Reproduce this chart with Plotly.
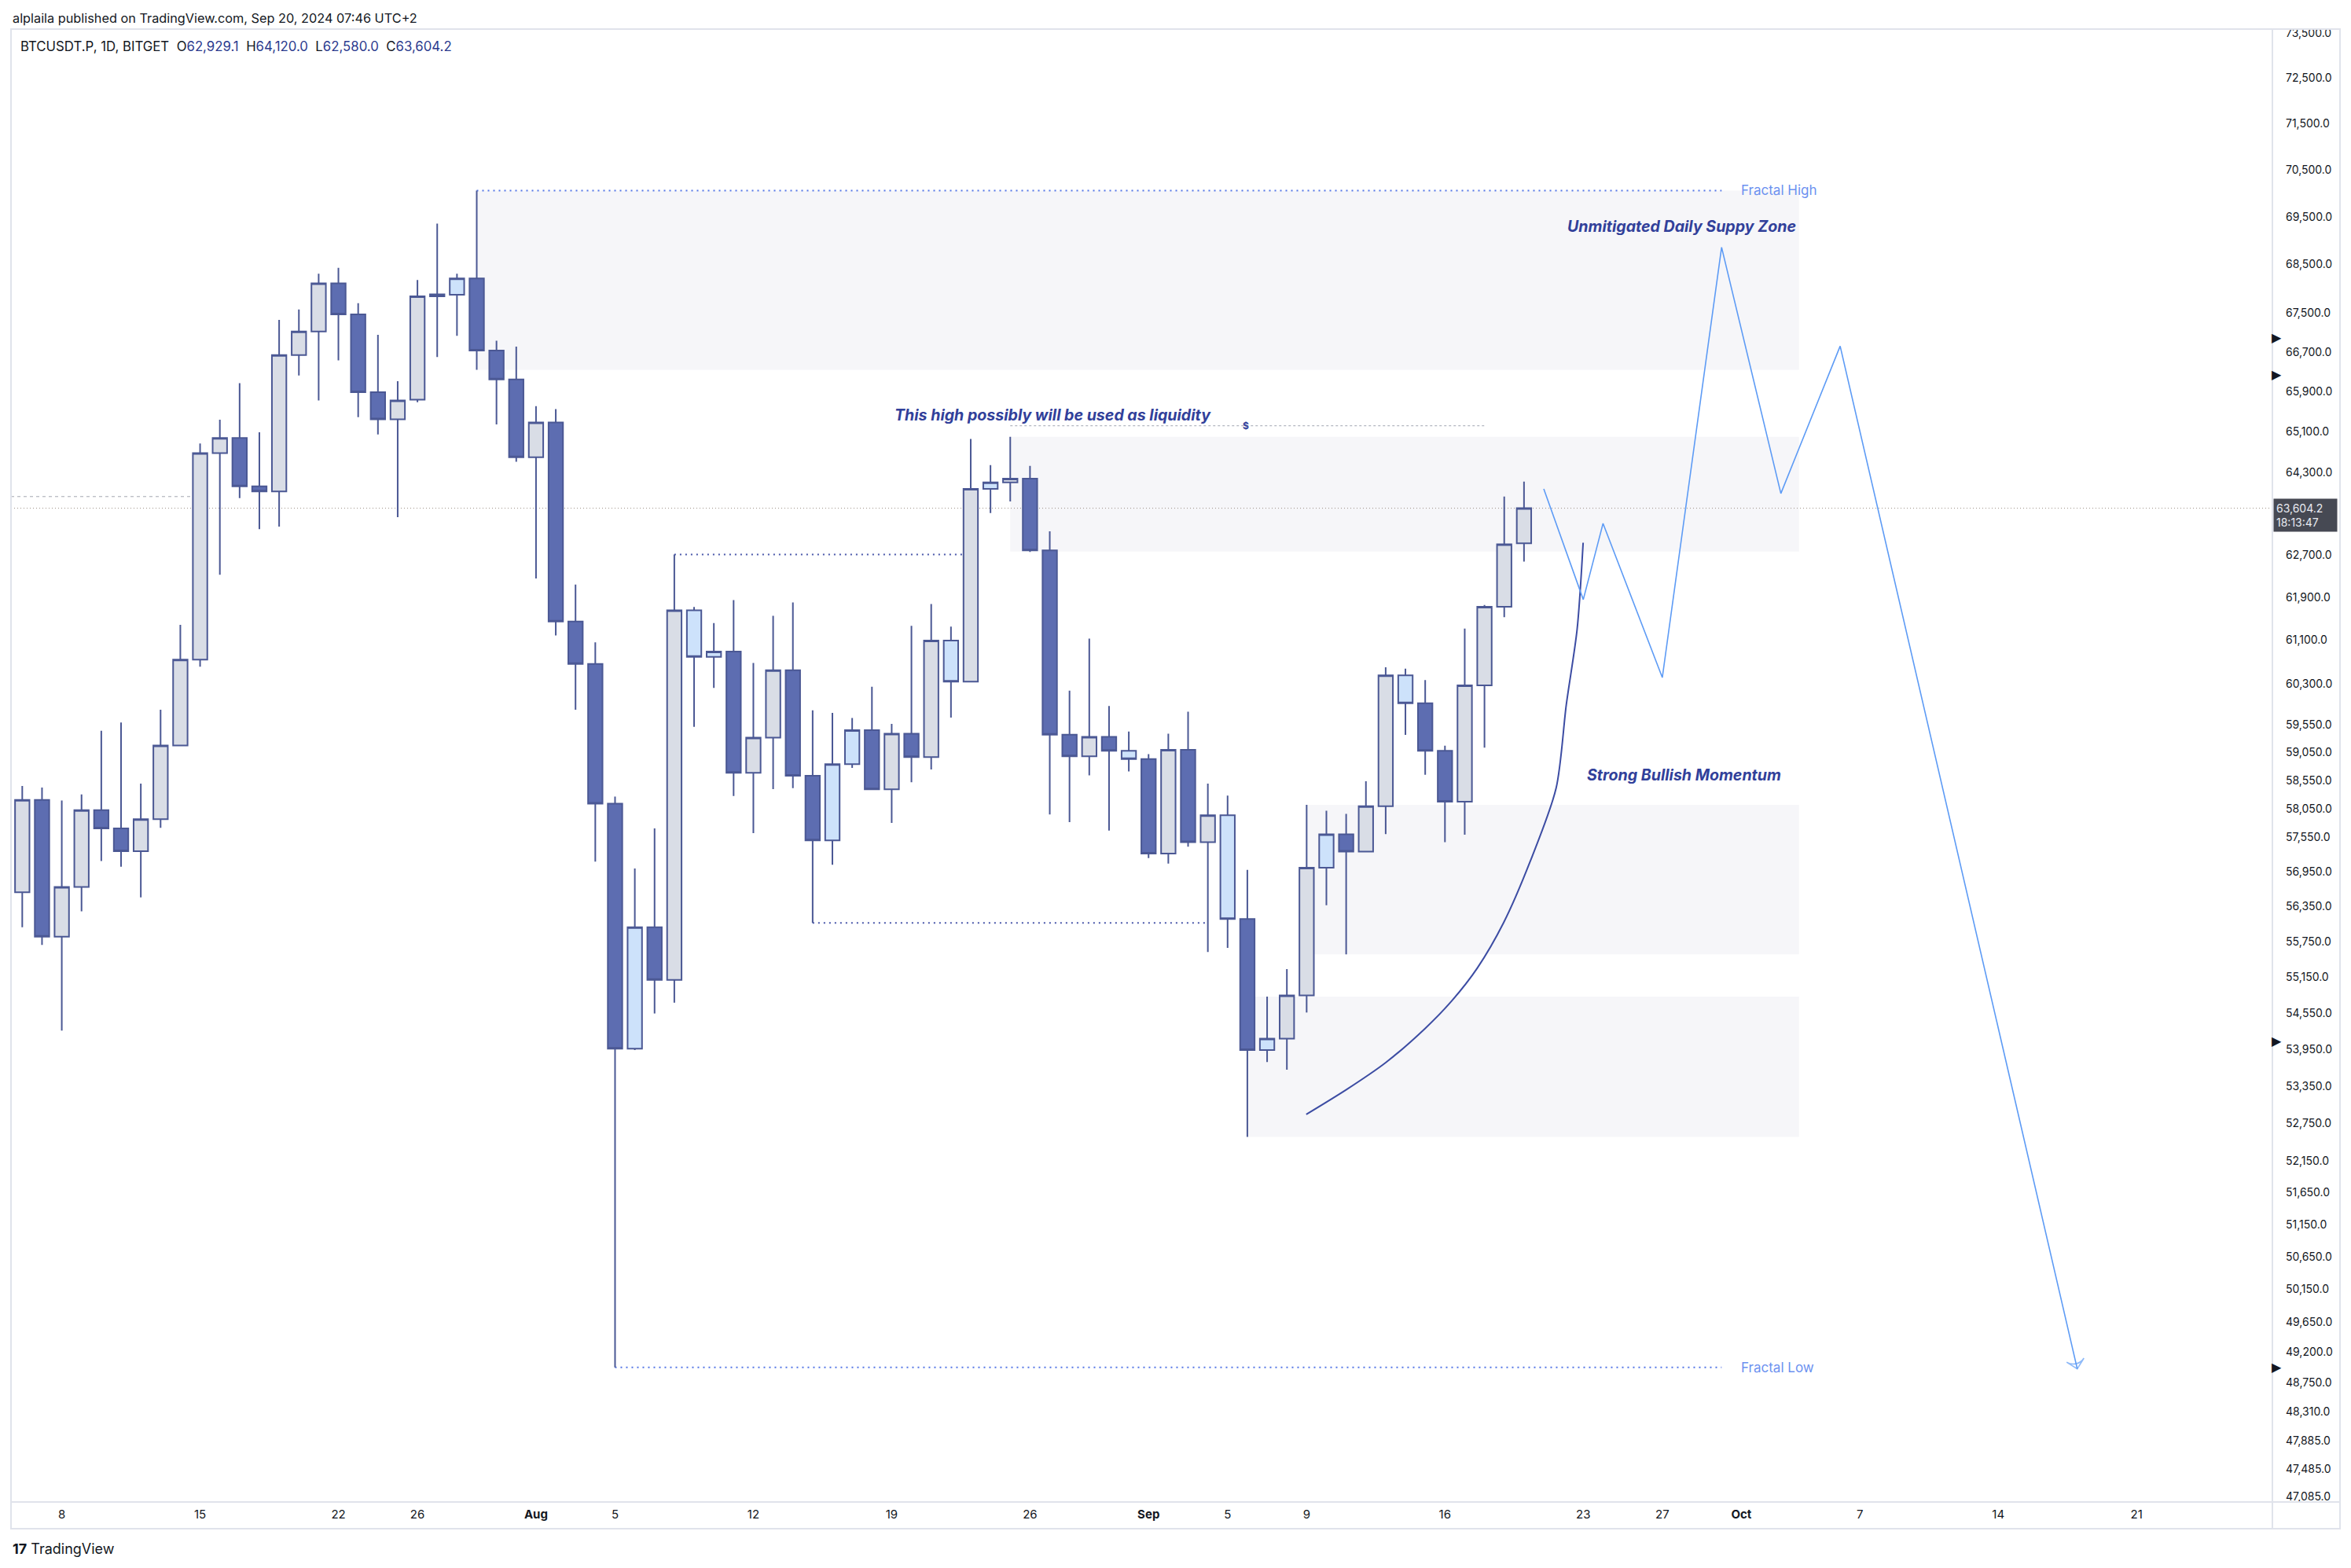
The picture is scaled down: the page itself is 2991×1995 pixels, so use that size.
import math
import plotly.graph_objects as go

# ---------------- data ----------------
dates = [
    "2024-07-06", "2024-07-07", "2024-07-08", "2024-07-09", "2024-07-10", "2024-07-11", "2024-07-12",
    "2024-07-13", "2024-07-14", "2024-07-15", "2024-07-16", "2024-07-17", "2024-07-18", "2024-07-19",
    "2024-07-20", "2024-07-21", "2024-07-22", "2024-07-23", "2024-07-24", "2024-07-25", "2024-07-26",
    "2024-07-27", "2024-07-28", "2024-07-29", "2024-07-30", "2024-07-31", "2024-08-01", "2024-08-02",
    "2024-08-03", "2024-08-04", "2024-08-05", "2024-08-06", "2024-08-07", "2024-08-08", "2024-08-09",
    "2024-08-10", "2024-08-11", "2024-08-12", "2024-08-13", "2024-08-14", "2024-08-15", "2024-08-16",
    "2024-08-17", "2024-08-18", "2024-08-19", "2024-08-20", "2024-08-21", "2024-08-22", "2024-08-23",
    "2024-08-24", "2024-08-25", "2024-08-26", "2024-08-27", "2024-08-28", "2024-08-29", "2024-08-30",
    "2024-08-31", "2024-09-01", "2024-09-02", "2024-09-03", "2024-09-04", "2024-09-05", "2024-09-06",
    "2024-09-07", "2024-09-08", "2024-09-09", "2024-09-10", "2024-09-11", "2024-09-12", "2024-09-13",
    "2024-09-14", "2024-09-15", "2024-09-16", "2024-09-17", "2024-09-18", "2024-09-19", "2024-09-20",
]
opens = [
    56590, 58200, 55830, 56680, 58020, 57700, 57300, 57860, 59175, 60740, 64680, 64980, 64030, 63930,
    66640, 67120, 68110, 67470, 65890, 65350, 65740, 67840, 67875, 68210, 66730, 66145, 64600, 65285,
    61450, 60660, 58135, 53960, 55990, 55100, 61660, 60790, 60890, 58685, 59315, 60545, 58630, 57490,
    58840, 59450, 58390, 59385, 58965, 61095, 60335, 63980, 64105, 64180, 62795, 59370, 58980, 59330,
    59080, 58930, 57260, 59095, 57460, 57930, 56130, 53935, 54125, 54840, 57015, 57595, 57295, 58090,
    60450, 59940, 59080, 58170, 60265, 61725, 62929.1,
]
highs = [
    58450, 58420, 58190, 58300, 59440, 59590, 58490, 59820, 61385, 64870, 65340, 66070, 65090, 67355,
    67570, 68310, 68430, 67700, 67050, 66110, 68180, 69360, 68310, 70060, 66930, 66810, 65610, 65550,
    62145, 61060, 58260, 57000, 57700, 62715, 61720, 61420, 61850, 60680, 61555, 61805, 59810, 59765,
    59670, 60240, 59565, 61370, 61775, 61355, 64960, 64445, 65000, 64430, 63160, 60170, 61130, 59890,
    59425, 59020, 59385, 59785, 58490, 58280, 56975, 54820, 55280, 58115, 58010, 57955, 58535, 60600,
    60575, 60365, 59170, 61315, 61760, 63830, 64120.0,
]
lows = [
    55990, 55690, 54255, 56260, 57130, 57030, 56500, 57710, 59170, 60610, 62330, 63800, 63200, 63250,
    66225, 65725, 66530, 65390, 65050, 63430, 65690, 66600, 67030, 66340, 65245, 64510, 62260, 61190,
    59820, 57120, 48970, 53935, 54540, 54720, 59510, 60220, 58270, 57615, 58395, 58410, 56065, 57065,
    58770, 58380, 57795, 58515, 58745, 59680, 60320, 63510, 63735, 62765, 57945, 57810, 58640, 57660,
    58710, 57180, 57085, 57380, 55570, 55640, 52530, 53740, 53615, 54555, 56365, 55530, 57280, 57600,
    59365, 58650, 57460, 57590, 59135, 61530, 62580.0,
]
closes = [
    58200, 55830, 56680, 58020, 57700, 57300, 57860, 59175, 60740, 64680, 64980, 64030, 63930, 66640,
    67120, 68110, 67470, 65890, 65350, 65725, 67840, 67880, 68210, 66730, 66145, 64600, 65285, 61450,
    60660, 58135, 53960, 55990, 55100, 61660, 60790, 60890, 58685, 59315, 60545, 58630, 57490, 58840,
    59450, 58390, 59385, 58965, 61095, 60335, 63980, 64105, 64180, 62795, 59370, 58980, 59330, 59080,
    58930, 57260, 59095, 57460, 57930, 56130, 53935, 54125, 54840, 57015, 57595, 57295, 58090, 60450,
    59940, 59080, 58170, 60265, 61725, 62910, 63604.2,
]
# candle colour group: u = grey, d = dark blue, b = light blue
styles = [
    "u", "d", "u", "u", "d", "d", "u", "u", "u", "u", "u", "d", "d", "u",
    "u", "u", "d", "d", "d", "u", "u", "u", "b", "d", "d", "d", "u", "d",
    "d", "d", "d", "b", "d", "u", "b", "b", "d", "u", "u", "d", "d", "b",
    "b", "d", "u", "d", "u", "b", "u", "b", "u", "d", "d", "d", "u", "d",
    "b", "d", "u", "d", "u", "b", "d", "b", "u", "u", "b", "d", "u", "u",
    "b", "d", "d", "u", "u", "u", "u",
]

# axis ticks
xtick_dates = ["2024-07-08", "2024-07-15", "2024-07-22", "2024-07-26", "2024-08-01", "2024-08-05",
               "2024-08-12", "2024-08-19", "2024-08-26", "2024-09-01", "2024-09-05", "2024-09-09",
               "2024-09-16", "2024-09-23", "2024-09-27", "2024-10-01", "2024-10-07", "2024-10-14",
               "2024-10-21"]
xtick_text = ["8", "15", "22", "26", "<b>Aug</b>", "5", "12", "19", "26", "<b>Sep</b>", "5", "9",
              "16", "23", "27", "<b>Oct</b>", "7", "14", "21"]
ytick_vals = [73500, 72500, 71500, 70500, 69500, 68500, 67500, 66700, 65900, 65100, 64300, 62700,
              61900, 61100, 60300, 59550, 59050, 58550, 58050, 57550, 56950, 56350, 55750, 55150,
              54550, 53950, 53350, 52750, 52150, 51650, 51150, 50650, 50150, 49650, 49200, 48750,
              48310, 47885, 47485, 47085]

# zones
zone_start = ["2024-07-29", "2024-08-25", "2024-09-09", "2024-09-06"]
zone_end = ["2024-10-03 22:00"] * 4
zone_top = [70060, 65000, 58115, 54820]
zone_bottom = [66340, 62770, 55530, 52530]

# horizontal levels
fractal_high = 70060
fractal_low = 48970
fractal_start = ["2024-07-29", "2024-08-05"]
fractal_end = "2024-09-30"
aug8_high = 62715
aug15_low = 56065
liquidity_level = 65220
last_price = 63604.2
left_level = 63830

# projection path and momentum curve
proj_x = ["2024-09-21", "2024-09-23", "2024-09-24", "2024-09-27", "2024-09-30", "2024-10-03",
          "2024-10-06", "2024-10-18"]
proj_y = [63980, 61860, 63310, 60410, 68860, 63890, 66820, 48950]
curve_x = ["2024-09-08 23:30", "2024-09-11 00:15", "2024-09-13 00:00", "2024-09-14 23:45",
           "2024-09-16 07:40", "2024-09-17 15:20", "2024-09-18 23:20", "2024-09-20 07:10",
           "2024-09-21 15:00", "2024-09-22 03:20", "2024-09-22 16:30", "2024-09-22 23:50"]
curve_y = [52890, 53290, 53730, 54290, 54740, 55300, 56070, 57110, 58410, 59910, 61300, 62940]

alert_levels = [67000, 66240, 54090, 48980]

# ---------------- styling / layout constants ----------------
OFF = 8                      # page body margin
W, H = 2991 - 2 * OFF, 1995 - 2 * OFF
# plot area in page pixels
PL, PR, PT, PB = 14, 2891, 37, 1911
L, R, T, B = PL - OFF, PR - OFF, PT - OFF, PB - OFF
FONT = "Inter"
TXT = "#131722"
WICK = "#4b5894"
FILLS = {"u": "#d9dde6", "d": "#5d6db1", "b": "#cde2fb"}
NAVY = "#31409a"
ZONE = "#f6f6f9"


def px(x):  # page pixel -> paper x
    return (x - PL) / (PR - PL)


def py(y):  # page pixel -> paper y
    return (PB - y) / (PB - PT)


lg = math.log10

fig = go.Figure()

# zones (main subplot, beneath the candle overlay)
for xs, xe, yt, yb in zip(zone_start, zone_end, zone_top, zone_bottom):
    fig.add_trace(go.Scatter(x=[xs, xe, xe, xs, xs], y=[yb, yb, yt, yt, yb], mode="lines",
                             fill="toself", fillcolor=ZONE, line=dict(width=0, color=ZONE),
                             showlegend=False, hoverinfo="skip"))

x_first, x_last = "2024-07-05 10:20", "2024-10-27 21:00"
y_range = [lg(47006), lg(73588)]


def hline(x0, x1, y, color, width, dash):
    fig.add_trace(go.Scatter(x=[x0, x1], y=[y, y], mode="lines",
                             line=dict(color=color, width=width, dash=dash),
                             showlegend=False, hoverinfo="skip"))


hline(x_first, x_last, last_price, "#9b8f85", 1, "1px,3px")
hline(x_first, "2024-07-14 20:00", left_level, "#a3a6b0", 1, "4px,4px")
hline(fractal_start[0], fractal_end, fractal_high, "#5577e6", 2, "2px,5px")
hline(fractal_start[1], fractal_end, fractal_low, "#5577e6", 2, "2px,5px")
hline("2024-08-08", "2024-08-22 22:00", aug8_high, "#4a58aa", 2, "2px,5px")
hline("2024-08-15", "2024-09-04", aug15_low, "#4a58aa", 2, "2px,5px")
hline("2024-08-25", "2024-09-18", liquidity_level, "#a0a4b0", 1, "3px,3px")

# momentum curve
fig.add_trace(go.Scatter(x=curve_x, y=curve_y, mode="lines",
                         line=dict(color="#3c4ca3", width=2, shape="spline", smoothing=0.8),
                         showlegend=False, hoverinfo="skip"))

# projection path with arrow
n = len(proj_x)
fig.add_trace(go.Scatter(
    x=proj_x, y=proj_y, mode="lines+markers",
    line=dict(color="#5d9bf5", width=1.6),
    marker=dict(symbol=["circle"] * (n - 1) + ["arrow-wide-open"],
                size=[0] * (n - 1) + [16], angleref="previous",
                color="#5d9bf5", line=dict(color="#5d9bf5", width=1.6)),
    showlegend=False, hoverinfo="skip", cliponaxis=False))

# candles on an overlaying subplot so they sit above the zones
for key in ["u", "d", "b"]:
    idx = [i for i, s in enumerate(styles) if s == key]
    fig.add_trace(go.Candlestick(
        x=[dates[i] for i in idx],
        open=[opens[i] for i in idx],
        high=[highs[i] for i in idx],
        low=[lows[i] for i in idx],
        close=[closes[i] for i in idx],
        increasing=dict(fillcolor=FILLS[key], line=dict(color=WICK, width=2)),
        decreasing=dict(fillcolor=FILLS[key], line=dict(color=WICK, width=2)),
        whiskerwidth=0, showlegend=False, hoverinfo="skip",
        xaxis="x2", yaxis="y2",
    ))

FRAME = "#e0e3eb"
shapes = [
    dict(type="rect", xref="paper", yref="paper", x0=px(14), x1=px(2977), y0=py(1945), y1=py(37),
         line=dict(color=FRAME, width=2), fillcolor="rgba(0,0,0,0)", layer="above"),
    dict(type="line", xref="paper", yref="paper", x0=1, x1=1, y0=py(1945), y1=py(37),
         line=dict(color=FRAME, width=2)),
    dict(type="line", xref="paper", yref="paper", x0=px(14), x1=px(2977), y0=0, y1=0,
         line=dict(color=FRAME, width=2)),
]

ann = []
ann.append(dict(xref="paper", yref="paper", x=px(14), y=py(23), xanchor="left", yanchor="middle",
                text="alplaila published on TradingView.com, Sep 20, 2024 07:46 UTC+2",
                showarrow=False, font=dict(family=FONT, size=16.3, color=TXT)))
num = lambda s: "<span style='color:#2b3a8e'>" + s + "</span>"
sp = "\u00a0\u00a0"
ann.append(dict(xref="paper", yref="paper", x=px(24), y=py(59), xanchor="left", yanchor="middle",
                text="BTCUSDT.P, 1D, BITGET" + sp + "O" + num("62,929.1") + sp + "H" + num("64,120.0")
                     + sp + "L" + num("62,580.0") + sp + "C" + num("63,604.2"),
                showarrow=False, font=dict(family=FONT, size=16.8, color=TXT)))
ann.append(dict(xref="paper", yref="paper", x=px(14), y=py(1971), xanchor="left", yanchor="middle",
                text="<b>17</b> TradingView", showarrow=False,
                font=dict(family=FONT, size=18, color=TXT)))

# chart texts
ann.append(dict(x="2024-10-03 20:00", y=lg(69300), xanchor="right", yanchor="middle",
                text="<b><i>Unmitigated Daily Suppy Zone</i></b>", showarrow=False,
                font=dict(family=FONT, size=19.6, color=NAVY)))
ann.append(dict(x="2024-08-27 04:00", y=lg(65435), xanchor="center", yanchor="middle",
                text="<b><i>This high possibly will be used as liquidity</i></b>", showarrow=False,
                font=dict(family=FONT, size=19.6, color=NAVY)))
ann.append(dict(x="2024-09-28 02:00", y=lg(58643), xanchor="center", yanchor="middle",
                text="<b><i>Strong Bullish Momentum</i></b>", showarrow=False,
                font=dict(family=FONT, size=19.6, color=NAVY)))
ann.append(dict(x="2024-09-05 22:00", y=lg(liquidity_level), xanchor="center", yanchor="middle",
                text="<b>$</b>", showarrow=False, font=dict(family=FONT, size=12, color=NAVY)))
ann.append(dict(x="2024-10-01", y=lg(fractal_high), xanchor="left", yanchor="middle", xshift=-2,
                text="Fractal High", showarrow=False, font=dict(family=FONT, size=17, color="#6c91f0")))
ann.append(dict(x="2024-10-01", y=lg(fractal_low), xanchor="left", yanchor="middle", xshift=-2,
                text="Fractal Low", showarrow=False, font=dict(family=FONT, size=17, color="#6c91f0")))

# last price label on the axis
ann.append(dict(xref="paper", x=1, y=lg(last_price), xanchor="left", yanchor="top", xshift=1, yshift=13,
                text="63,604.2<br>18:13:47", showarrow=False, align="left", bgcolor="#464953",
                borderpad=3, width=74, font=dict(family=FONT, size=14, color="#e8eaf0")))
for lv in alert_levels:
    ann.append(dict(xref="paper", x=1, y=lg(lv), xanchor="left", yanchor="middle", xshift=-3,
                    text="\u25B6", showarrow=False, font=dict(family="DejaVu Sans", size=16, color=TXT)))

fig.update_layout(
    width=W, height=H,
    margin=dict(l=L, r=W - R, t=T, b=H - B, pad=0),
    paper_bgcolor="#ffffff", plot_bgcolor="#ffffff",
    font=dict(family=FONT, color=TXT),
    boxgap=0.27, boxgroupgap=0,
    showlegend=False,
    shapes=shapes, annotations=ann,
    xaxis=dict(type="date", range=[x_first, x_last], tickvals=xtick_dates, ticktext=xtick_text,
               showgrid=False, zeroline=False, showline=False, ticks="",
               tickfont=dict(family=FONT, size=15, color=TXT), ticklabelstandoff=5,
               rangeslider=dict(visible=False), fixedrange=True),
    yaxis=dict(type="log", side="right", range=y_range,
               tickvals=ytick_vals, ticktext=[f"{v:,.1f}" for v in ytick_vals],
               showgrid=False, zeroline=False, showline=False, ticks="",
               tickfont=dict(family=FONT, size=14, color=TXT), ticklabelstandoff=16,
               fixedrange=True),
    xaxis2=dict(type="date", range=[x_first, x_last], overlaying="x", visible=False,
                showgrid=False, zeroline=False, rangeslider=dict(visible=False), fixedrange=True),
    yaxis2=dict(type="log", range=y_range, overlaying="y", side="right", visible=False,
                showgrid=False, zeroline=False, fixedrange=True),
)

fig.write_html("out.html", config={"displayModeBar": False})
